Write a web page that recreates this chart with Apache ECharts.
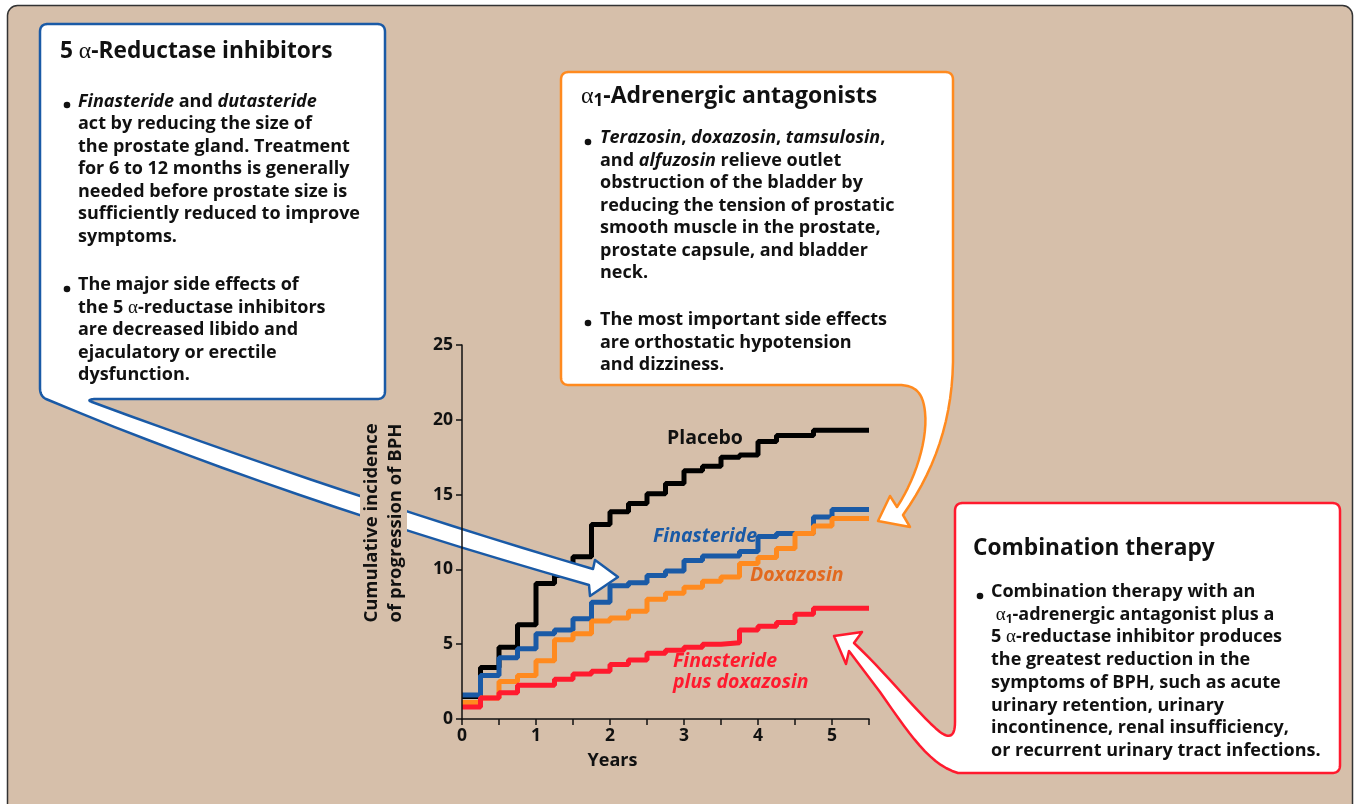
<!DOCTYPE html>
<html>
<head>
<meta charset="utf-8">
<script src="https://cdn.jsdelivr.net/npm/echarts@6/dist/echarts.min.js"></script>
<style>
html, body { margin: 0; padding: 0; background: #fff; }
#main { width: 1360px; height: 804px; }
</style>
</head>
<body>
<div id="main"></div>
<script>
// years since start, read every quarter of a year
var years = [0, 0.25, 0.5, 0.75, 1, 1.25, 1.5, 1.75, 2, 2.25, 2.5, 2.75, 3, 3.25, 3.5, 3.75, 4, 4.25, 4.5, 4.75, 5, 5.25, 5.5];
var placebo = [1.5, 3.45, 4.8, 6.3, 9.05, 9.6, 10.85, 13.0, 13.85, 14.4, 15.05, 15.75, 16.6, 16.9, 17.5, 17.65, 18.55, 18.95, 18.95, 19.3, 19.3, 19.3, 19.3];
var finasteride = [1.6, 2.9, 4.1, 4.7, 5.7, 5.95, 6.7, 7.8, 8.9, 9.1, 9.6, 9.9, 10.6, 10.9, 10.9, 11.2, 12.2, 12.4, 12.4, 13.5, 14.0, 14.0, 14.0];
var doxazosin = [1.1, 1.4, 2.5, 2.9, 3.9, 5.3, 5.7, 6.55, 6.75, 7.2, 8.0, 8.4, 8.8, 9.2, 9.5, 10.4, 10.8, 11.4, 12.4, 12.9, 13.4, 13.4, 13.4];
var combination = [0.8, 1.4, 1.75, 2.25, 2.25, 2.65, 3.0, 3.2, 3.65, 3.95, 4.4, 4.6, 4.8, 5.0, 5.1, 5.95, 6.2, 6.45, 7.0, 7.4, 7.4, 7.4, 7.4];

var FONT = '"Open Sans", "Noto Sans", sans-serif';
var SERIF = '"Liberation Serif", "DejaVu Serif", serif';
var BG = '#d6bfaa';
var blue = '#1a5aa6', orange = '#ff8a1f', red = '#ff1a2e';

function pairs(arr) {
    return years.map(function (x, i) { return [x, arr[i]]; });
}

// graphic has no 'path' element, so flatten a small M/L/Q/C path into polygon points
function flatten(d) {
    var tok = d.match(/[MLQCZ]|-?\d+(\.\d+)?/g);
    var pts = [], i = 0, cmd, cx = 0, cy = 0, n = 14;
    function num() { return parseFloat(tok[i++]); }
    while (i < tok.length) {
        if (/[MLQCZ]/.test(tok[i])) cmd = tok[i++];
        if (cmd === 'Z') break;
        if (cmd === 'M' || cmd === 'L') {
            cx = num(); cy = num(); pts.push([cx, cy]);
        } else if (cmd === 'Q') {
            var qx = num(), qy = num(), ex = num(), ey = num();
            for (var k = 1; k <= n; k++) {
                var t = k / n, u = 1 - t;
                pts.push([u * u * cx + 2 * u * t * qx + t * t * ex, u * u * cy + 2 * u * t * qy + t * t * ey]);
            }
            cx = ex; cy = ey;
        } else if (cmd === 'C') {
            var ax = num(), ay = num(), bx = num(), by = num(), ex2 = num(), ey2 = num();
            for (var j = 1; j <= n; j++) {
                var s = j / n, v = 1 - s;
                pts.push([v * v * v * cx + 3 * v * v * s * ax + 3 * v * s * s * bx + s * s * s * ex2,
                          v * v * v * cy + 3 * v * v * s * ay + 3 * v * s * s * by + s * s * s * ey2]);
            }
            cx = ex2; cy = ey2;
        }
    }
    return pts;
}

function callout(d, color) {
    return {type: 'polygon', z: 10, shape: {points: flatten(d)},
        style: {fill: '#fff', stroke: color, lineWidth: 2.5, lineJoin: 'round'}};
}

function richFor(size, lh) {
    return {
        i: {fontStyle: 'italic', fontWeight: 'bold', fontSize: size, fontFamily: FONT, fill: '#111', lineHeight: lh},
        a: {fontFamily: SERIF, fontWeight: 'normal', fontSize: size + 1, fill: '#111', lineHeight: lh},
        s: {fontFamily: FONT, fontWeight: 'bold', fontSize: size - 6, fill: '#111', verticalAlign: 'bottom', lineHeight: lh - 3}
    };
}

function txt(x, top, lines, size, lh) {
    return {
        type: 'text', z: 12, x: x, y: top,
        style: {
            text: lines.join('\n'),
            fontFamily: FONT, fontWeight: 'bold', fontSize: size,
            lineHeight: lh, fill: '#111',
            textAlign: 'left', align: 'left',
            textVerticalAlign: 'top', verticalAlign: 'top',
            rich: richFor(size, lh)
        }
    };
}

function dot(cx, cy) {
    return {type: 'circle', z: 12, shape: {cx: cx, cy: cy, r: 3.3}, style: {fill: '#111'}};
}

function label(x, y, text, color, italic) {
    return {
        type: 'text', z: 12, x: x, y: y,
        style: {
            text: text, fill: color,
            fontFamily: FONT, fontWeight: 'bold', fontStyle: italic ? 'italic' : 'normal', fontSize: 19.5,
            lineHeight: 21,
            textAlign: 'left', align: 'left',
            textVerticalAlign: 'top', verticalAlign: 'top'
        }
    };
}

var chart = echarts.init(document.getElementById('main'));

option = {
    animation: false,
    backgroundColor: '#fff',
    grid: {
        left: 462, top: 345, right: 491, bottom: 85
    },
    xAxis: {
        type: 'value',
        min: 0, max: 5.5, interval: 0.5,
        name: 'Years',
        nameLocation: 'middle',
        nameGap: 33,
        nameTextStyle: {fontFamily: FONT, fontWeight: 'bold', fontSize: 18, color: '#111', padding: [0, 106, 0, 0]},
        axisLine: {lineStyle: {color: '#111', width: 1.5}},
        axisTick: {inside: false, length: 6, lineStyle: {color: '#111', width: 1.5}},
        axisLabel: {
            margin: 8,
            fontFamily: FONT, fontWeight: 'bold', fontSize: 17.5, color: '#111',
            formatter: function (v) { return v % 1 === 0 ? String(v) : ''; }
        },
        splitLine: {show: false}
    },
    yAxis: {
        type: 'value',
        min: 0, max: 25, interval: 5,
        z: 20,
        name: 'Cumulative incidence\nof progression of BPH',
        nameLocation: 'middle',
        nameRotate: 90,
        nameGap: 55,
        nameTextStyle: {
            fontFamily: FONT, fontWeight: 'bold', fontSize: 18.5, color: '#111',
            lineHeight: 23.5,
            backgroundColor: BG,
            padding: [0, 2, 0, 20]
        },
        axisLine: {show: true, lineStyle: {color: '#111', width: 1.5}},
        axisTick: {show: true, inside: false, length: 6, lineStyle: {color: '#111', width: 1.5}},
        axisLabel: {
            margin: 9,
            fontFamily: FONT, fontWeight: 'bold', fontSize: 17.5, color: '#111'
        },
        splitLine: {show: false}
    },
    series: [
        {name: 'Placebo', type: 'line', step: 'end', symbol: 'none', data: pairs(placebo),
            lineStyle: {color: '#000', width: 5}},
        {name: 'Finasteride', type: 'line', step: 'end', symbol: 'none', data: pairs(finasteride),
            lineStyle: {color: blue, width: 5}},
        {name: 'Doxazosin', type: 'line', step: 'end', symbol: 'none', data: pairs(doxazosin),
            lineStyle: {color: orange, width: 5}},
        {name: 'Finasteride plus doxazosin', type: 'line', step: 'end', symbol: 'none', data: pairs(combination),
            lineStyle: {color: red, width: 5}}
    ],
    graphic: [
        // outer panel
        {type: 'rect', z: -10, shape: {x: 7.5, y: 5.5, width: 1345, height: 812, r: 10},
            style: {fill: BG, stroke: '#333', lineWidth: 1.5}},

        // blue callout + arrow
        callout('M48 24 L377 24 Q385 24 385 32 L385 391 Q385 399 377 399 L94 399 Q86 400 92 402 ' +
            'Q349 497 593 569 L595 560 L618 577 L590 596 L589 585 Q279 497 46 399 Q40 396 40 388 L40 32 Q40 24 48 24 Z', blue),

        // orange callout + arrow
        callout('M569 72 L945 72 Q953 72 953 80 L953 362 C952 420 935 470 903 515 L910 527 L878 521 L890 496 L897 507 ' +
            'C915 480 928 440 925 412 C923 392 915 385 898 385 L569 385 Q561 385 561 377 L561 80 Q561 72 569 72 Z', orange),

        // red callout + arrow
        callout('M963 503 L1332 503 Q1340 503 1340 511 L1340 765 Q1340 773 1332 773 L958 773 ' +
            'C930 765 910 735 880 692 L849 651 L846 664 L834 636 L862 632 L854 643 ' +
            'C888 675 920 716 940 732 Q955 743 955 722 L955 511 Q955 503 963 503 Z', red),

        // blue box text
        txt(60, 39.5, ['5 {a|α}-Reductase inhibitors'], 22.7, 25),
        dot(67, 105),
        txt(78, 90.5, [
            '{i|Finasteride} and {i|dutasteride}',
            'act by reducing the size of',
            'the prostate gland. Treatment',
            'for 6 to 12 months is generally',
            'needed before prostate size is',
            'sufficiently reduced to improve',
            'symptoms.'
        ], 18, 22.5),
        dot(67, 289),
        txt(78, 273.8, [
            'The major side effects of',
            'the 5 {a|α}-reductase inhibitors',
            'are decreased libido and',
            'ejaculatory or erectile',
            'dysfunction.'
        ], 18, 22.5),

        // orange box text
        txt(581, 84.2, ['{a|α}{s|1}-Adrenergic antagonists'], 23, 25),
        dot(588, 142),
        txt(600, 127, [
            '{i|Terazosin}, {i|doxazosin}, {i|tamsulosin},',
            'and {i|alfuzosin} relieve outlet',
            'obstruction of the bladder by',
            'reducing the tension of prostatic',
            'smooth muscle in the prostate,',
            'prostate capsule, and bladder',
            'neck.'
        ], 18, 22.5),
        dot(588, 323),
        txt(600, 308.8, [
            'The most important side effects',
            'are orthostatic hypotension',
            'and dizziness.'
        ], 18, 22.5),

        // red box text
        txt(973, 535.8, ['Combination therapy'], 22.7, 25),
        dot(980, 596),
        txt(991, 580.4, [
            'Combination therapy with an',
            ' {a|α}{s|1}-adrenergic antagonist plus a',
            '5 {a|α}-reductase inhibitor produces',
            'the greatest reduction in the',
            'symptoms of BPH, such as acute',
            'urinary retention, urinary',
            'incontinence, renal insufficiency,',
            'or recurrent urinary tract infections.'
        ], 18, 22.75),

        // line labels
        label(667, 427.5, 'Placebo', '#111', false),
        label(653, 525.5, 'Finasteride', blue, true),
        label(750, 565, 'Doxazosin', '#e2691f', true),
        label(673, 650.5, 'Finasteride\nplus doxazosin', red, true)
    ]
};

chart.setOption(option);
</script>
</body>
</html>
